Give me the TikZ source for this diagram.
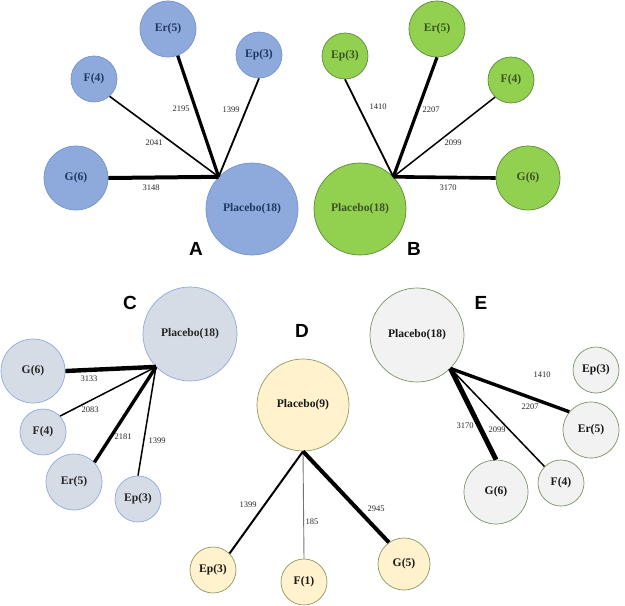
\documentclass[tikz,border=0pt]{standalone}
\usepackage{fontspec}
\setmainfont{Liberation Serif}
\newfontfamily\letterfont{Liberation Sans}
\definecolor{afill}{HTML}{8EA9DB}
\definecolor{adraw}{HTML}{7593D0}
\definecolor{atext}{HTML}{1F3864}
\definecolor{bfill}{HTML}{92D050}
\definecolor{bdraw}{HTML}{5B8A3A}
\definecolor{btext}{HTML}{3B5323}
\definecolor{cfill}{HTML}{D6DCE5}
\definecolor{cdraw}{HTML}{8FAADC}
\definecolor{dfill}{HTML}{FFF2CC}
\definecolor{ddraw}{HTML}{8B9A63}
\definecolor{efill}{HTML}{F2F2F2}
\definecolor{edraw}{HTML}{7A9468}
\begin{document}
\begin{tikzpicture}[x=1pt,y=-1pt,
  base/.style={circle, inner sep=0pt, line width=0.7pt, minimum size=#1,
    font=\fontsize{11.6}{13}\selectfont\bfseries},
  na/.style={base=#1, draw=adraw, fill=afill, text=atext},
  nb/.style={base=#1, draw=bdraw, fill=bfill, text=btext},
  nc/.style={base=#1, draw=cdraw, fill=cfill, text=black!85},
  nd/.style={base=#1, draw=ddraw, fill=dfill, text=black!90},
  ne/.style={base=#1, draw=edraw, fill=efill, text=black!90},
  elab/.style={font=\fontsize{8.5}{10}\selectfont, text=black!85, inner sep=0pt},
  plet/.style={font=\fontsize{19}{22}\selectfont\letterfont\bfseries, inner sep=0pt},
  ed/.style={line width=#1, draw=black}
]
\useasboundingbox (0,0) rectangle (625,606);

% ---------- Panel A ----------
\node[na=56pt] (aEr) at (168,29) {Er(5)};
\node[na=46pt] (aEp) at (259,55) {Ep(3)};
\node[na=46pt] (aF) at (94,79) {F(4)};
\node[na=64pt] (aG) at (76,178) {G(6)};
\node[na=92pt] (aP) at (252,209) {Placebo(18)};
\coordinate (aH) at (aP.136);
\draw[ed=4pt] (aG.east) -- (aH);
\draw[ed=3.2pt] (aEr.-70) -- (aH);
\draw[ed=1.6pt] (aF.-48) -- (aH);
\draw[ed=1.8pt] (aEp.south) -- (aH);
\node[elab] (aL1) at (181,109) {2195};
\node[elab] (aL2) at (231,110) {1399};
\node[elab] (aL3) at (154,143) {2041};
\node[elab] (aL4) at (151,188) {3148};
\node[plet] (aLet) at (196,249) {A};

% ---------- Panel B ----------
\node[nb=46pt] (bEp) at (345,56) {Ep(3)};
\node[nb=56pt] (bEr) at (437,29) {Er(5)};
\node[nb=46pt] (bF) at (511,80) {F(4)};
\node[nb=64pt] (bG) at (528,178) {G(6)};
\node[nb=92pt] (bP) at (360,209) {Placebo(18)};
\coordinate (bH) at (bP.44);
\draw[ed=3.6pt] (bG.west) -- (bH);
\draw[ed=3.2pt] (bEr.south) -- (bH);
\draw[ed=1.5pt] (bF.-133) -- (bH);
\draw[ed=1.8pt] (bEp.south) -- (bH);
\node[elab] (bL1) at (378,107) {1410};
\node[elab] (bL2) at (431,110) {2207};
\node[elab] (bL3) at (453,143) {2099};
\node[elab] (bL4) at (448,188) {3170};
\node[plet] (bLet) at (414,249) {B};

% ---------- Panel C ----------
\node[nc=94pt] (cP) at (190,334) {Placebo(18)};
\node[nc=64pt] (cG) at (33,371) {G(6)};
\node[nc=46pt] (cF) at (43,432) {F(4)};
\node[nc=56pt] (cEr) at (74,482) {Er(5)};
\node[nc=46pt] (cEp) at (138,499) {Ep(3)};
\coordinate (cH) at (cP.224);
\draw[ed=4.4pt] (cG.east) -- (cH);
\draw[ed=1.5pt] (cF.43) -- (cH);
\draw[ed=3.4pt] (cEr.44) -- (cH);
\draw[ed=1.5pt] (cEp.north) -- (cH);
\node[elab] (cL1) at (89,379) {3133};
\node[elab] (cL2) at (90,410) {2083};
\node[elab] (cL3) at (123,437) {2181};
\node[elab] (cL4) at (157,441) {1399};
\node[plet] (cLet) at (130,303) {C};

% ---------- Panel D ----------
\node[nd=92pt] (dP) at (303,405) {Placebo(9)};
\node[nd=46pt] (dEp) at (213,570) {Ep(3)};
\node[nd=46pt] (dF) at (304,582) {F(1)};
\node[nd=52pt] (dG) at (404,564) {G(5)};
\coordinate (dH) at (dP.south);
\draw[ed=2pt] (dEp.45) -- (dH);
\draw[line width=0.9pt, draw=black!55] (dF.north) -- (dH);
\draw[ed=4pt] (dG.125) -- (dH);
\node[elab] (dL1) at (248,505) {1399};
\node[elab] (dL2) at (312,522) {185};
\node[elab] (dL3) at (376,509) {2945};
\node[plet] (dLet) at (302,331) {D};

% ---------- Panel E ----------
\node[ne=94pt] (eP) at (417,335) {Placebo(18)};
\node[ne=46pt] (eEp) at (596,370) {Ep(3)};
\node[ne=56pt] (eEr) at (591,430) {Er(5)};
\node[ne=46pt] (eF) at (561,483) {F(4)};
\node[ne=64pt] (eG) at (496,492) {G(6)};
\coordinate (eH) at (eP.-45);
\draw[ed=5pt] (eG.north) -- (eH);
\draw[ed=1.5pt] (eF.135) -- (eH);
\draw[ed=3.4pt] (eEr.140) -- (eH);
\node[elab] (eL1) at (542,375) {1410};
\node[elab] (eL2) at (530,407) {2207};
\node[elab] (eL3) at (465,426) {3170};
\node[elab] (eL4) at (497,430) {2099};
\node[plet] (eLet) at (481,303) {E};
\end{tikzpicture}
\end{document}
